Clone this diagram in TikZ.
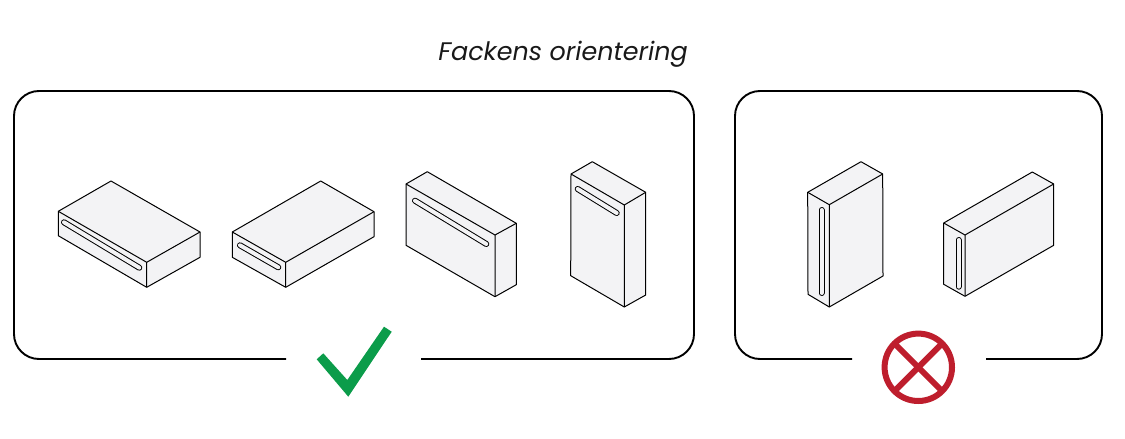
\documentclass[tikz,border=0pt]{standalone}
\usepackage{fontspec}
\setmainfont{Poppins}
\definecolor{brickfill}{HTML}{F3F3F5}
\definecolor{okgreen}{HTML}{0B9C4A}
\definecolor{nored}{HTML}{BE1E2D}
\tikzset{
  brickline/.style={draw=black,line width=1pt,line join=round},
  frameline/.style={draw=black,line width=1.9pt,rounded corners=25pt},
  slotout/.style={draw=black,line width=6pt,line cap=round},
  slotin/.style={draw=brickfill,line width=4pt,line cap=round},
  nomark/.style={draw=nored,line width=6pt},
  titletext/.style={font=\fontsize{25.4}{30}\selectfont\itshape,text=black!90,inner sep=0pt,anchor=base}
}
% top, right, front, left, bottom, right-bottom, left-bottom, slot start, slot end
\newcommand{\brickshape}[9]{
  \fill[brickfill] #1 -- #2 -- #6 -- #5 -- #7 -- #4 -- cycle;
  \draw[slotout] #8 -- #9;
  \draw[slotin] #8 -- #9;
  \draw[brickline] #1 -- #2 -- #6 -- #5 -- #7 -- #4 -- cycle;
  \draw[brickline] #4 -- #3 -- #2 #3 -- #5;
}
\begin{document}
\begin{tikzpicture}[x=1pt,y=-1pt]
\useasboundingbox (0,0) rectangle (1125,439);
\fill[white] (0,0) rectangle (1125,439);
\node[titletext] (title) at (563,60) {Fackens orientering};
\draw[frameline] (286,359) -- (14,359) -- (14,91) -- (694,91) -- (694,359) -- (421,359);
\draw[frameline] (852,359) -- (735,359) -- (735,91) -- (1102,91) -- (1102,359) -- (986,359);
\brickshape{(111,181)}{(200,232)}{(146.7,262.3)}{(58.3,211.3)}{(146.7,287.3)}{(200,257.3)}{(58.3,235.7)}{(64,222.3)}{(139.3,267.7)}
\brickshape{(320.7,181)}{(374,211.7)}{(285.7,262.3)}{(232.3,232)}{(285.7,287.3)}{(374,236.7)}{(232.3,257.3)}{(240,245.3)}{(278.3,267.3)}
\brickshape{(427.3,171.7)}{(516.3,223.3)}{(495,235)}{(406,184)}{(495,296.7)}{(516.3,284.7)}{(406,245.3)}{(415,200.7)}{(486.3,244)}
\brickshape{(592.3,161.7)}{(645.7,192.3)}{(624.3,205)}{(571,174)}{(624.3,307)}{(645.7,295)}{(570.7,275.7)}{(577.7,189)}{(616.7,213)}
\brickshape{(861,161.7)}{(882.7,174)}{(829.3,204.7)}{(807.7,192.3)}{(829.3,307)}{(883,276)}{(808,294.3)}{(821.5,210)}{(821.5,293)}
\brickshape{(1032.3,172)}{(1053.7,184)}{(965,235)}{(943.7,223)}{(965,296.3)}{(1053.7,245.3)}{(943.7,284.3)}{(958.5,240)}{(958.5,286.7)}
\fill[okgreen] (316.7,359.3) -- (323.3,353.3) -- (347.3,380) -- (384,326.7) -- (391.7,331.7) -- (348.3,396.7) -- cycle;
\draw[nomark] (918.3,367.3) circle (33.7);
\draw[nomark] (894.5,343.5) -- (942.1,391.1);
\draw[nomark] (894.5,391.1) -- (942.1,343.5);
\end{tikzpicture}
\end{document}
